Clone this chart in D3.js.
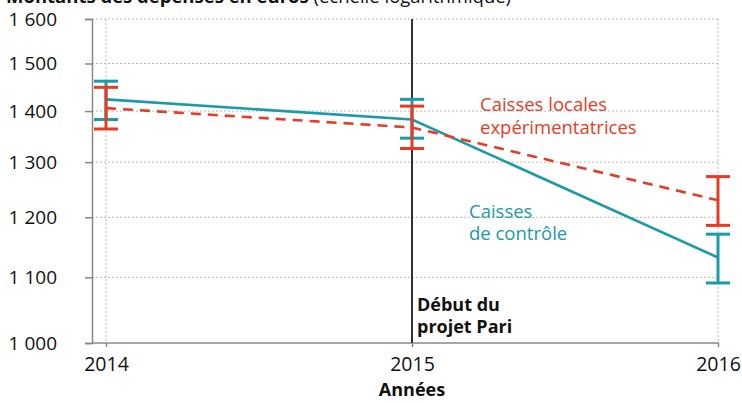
<!DOCTYPE html>
<html><head><meta charset="utf-8">
<script src="https://cdn.jsdelivr.net/npm/d3@7"></script>
<style>body{margin:0;background:#fff}svg{display:block;font-family:"Open Sans",sans-serif}</style>
</head><body>
<svg id="c" width="742" height="403"></svg>
<script>
const years = [2014, 2015, 2016];
const yTicks = [1000, 1100, 1200, 1300, 1400, 1500, 1600];
const controlMean = [1424, 1383, 1132];
const controlLow = [1383, 1346, 1091];
const controlHigh = [1462, 1424, 1171];
const expMean = [1406, 1367, 1230];
const expLow = [1364, 1326, 1186];
const expHigh = [1449, 1410, 1273];

const teal = "#1b9aa8", red = "#e63b25";
const svg = d3.select("#c");
const x = d3.scaleLinear().domain([2014, 2016]).range([106, 718]);
const y = d3.scaleLog().domain([1000, 1600]).range([343, 19]);
const fmt = v => d3.format(",")(v).replace(",", " ");

// title (clipped at top)
const t = svg.append("text").attr("x", 6).attr("y", 3).attr("font-size", 18.5).attr("fill", "#111");
t.append("tspan").attr("font-weight", "bold").text("Montants des dépenses en euros");
t.append("tspan").text(" (échelle logarithmique)");

// grid
svg.append("g").selectAll("line").data(yTicks.slice(1)).join("line")
  .attr("x1", 92).attr("x2", 718).attr("y1", d => y(d)).attr("y2", d => y(d))
  .attr("stroke", "#bbb").attr("stroke-width", 1).attr("stroke-dasharray", "2,2");
svg.append("g").selectAll("line").data(years).join("line")
  .attr("x1", d => x(d)).attr("x2", d => x(d)).attr("y1", y(1600)).attr("y2", y(1000))
  .attr("stroke", "#bbb").attr("stroke-width", 1).attr("stroke-dasharray", "2,2");

// y axis
const ya = svg.append("g").attr("transform", "translate(92,0)")
  .call(d3.axisLeft(y).tickValues(yTicks).tickFormat(fmt).tickSize(7).tickPadding(28));
ya.select(".domain").attr("stroke", "#888").attr("stroke-width", 1.5);
ya.selectAll(".tick line").attr("stroke", "#888").attr("stroke-width", 1.5);
ya.selectAll("text").attr("font-size", 19).attr("fill", "#111").attr("font-family", "Open Sans");

// x axis
const xa = svg.append("g").attr("transform", "translate(0,343)")
  .call(d3.axisBottom(x).tickValues(years).tickFormat(d3.format("d")).tickSizeInner(4).tickSizeOuter(0).tickPadding(10));
xa.select(".domain").attr("d", "M92,0H719").attr("stroke", "#888").attr("stroke-width", 1.5);
xa.selectAll(".tick line").attr("stroke", "#888").attr("stroke-width", 1.5);
xa.selectAll("text").attr("font-size", 19.5).attr("fill", "#111").attr("font-family", "Open Sans");

svg.append("text").attr("x", x(2015)).attr("y", 396).attr("text-anchor", "middle")
  .attr("font-size", 18).attr("font-weight", "bold").attr("fill", "#111").text("Années");

// project start line
svg.append("line").attr("x1", x(2015)).attr("x2", x(2015)).attr("y1", y(1600)).attr("y2", y(1000))
  .attr("stroke", "#333").attr("stroke-width", 2);
const dt = svg.append("text").attr("font-size", 18).attr("font-weight", "bold").attr("fill", "#111");
dt.append("tspan").attr("x", 417).attr("y", 311).text("Début du");
dt.append("tspan").attr("x", 417).attr("y", 333).text("projet Pari");

function series(mean, low, high, color, dash) {
  const g = svg.append("g");
  g.append("path").datum(years.map((yr, i) => [yr, mean[i]]))
    .attr("d", d3.line().x(d => x(d[0])).y(d => y(d[1])))
    .attr("fill", "none").attr("stroke", color).attr("stroke-width", 2.6)
    .attr("stroke-dasharray", dash);
  years.forEach((yr, i) => {
    const cx = x(yr);
    g.append("line").attr("x1", cx).attr("x2", cx).attr("y1", y(low[i])).attr("y2", y(high[i]))
      .attr("stroke", color).attr("stroke-width", 3);
    [low[i], high[i]].forEach(v => g.append("line").attr("x1", cx - 12).attr("x2", cx + 12)
      .attr("y1", y(v)).attr("y2", y(v)).attr("stroke", color).attr("stroke-width", 3));
  });
}
series(controlMean, controlLow, controlHigh, teal, null);
series(expMean, expLow, expHigh, red, "10,7");

const l1 = svg.append("text").attr("font-size", 18.5).attr("fill", red);
l1.append("tspan").attr("x", 480).attr("y", 111).text("Caisses locales");
l1.append("tspan").attr("x", 480).attr("y", 134).text("expérimentatrices");
const l2 = svg.append("text").attr("font-size", 18.5).attr("fill", teal);
l2.append("tspan").attr("x", 469).attr("y", 218).text("Caisses");
l2.append("tspan").attr("x", 469).attr("y", 240).text("de contrôle");
</script>
</body></html>
